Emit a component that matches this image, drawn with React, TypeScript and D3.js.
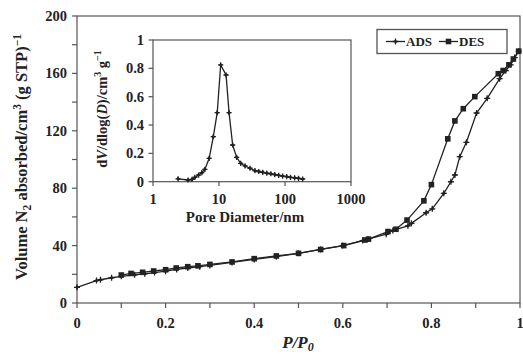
import React from "react";
import * as d3 from "d3";

const adsP = [0, 0.044, 0.053, 0.078, 0.1, 0.13, 0.153, 0.175, 0.2, 0.225, 0.25, 0.277, 0.3, 0.35, 0.4, 0.45, 0.5, 0.55, 0.6, 0.645, 0.657, 0.698, 0.713, 0.747, 0.755, 0.788, 0.802, 0.828, 0.844, 0.853, 0.864, 0.879, 0.902, 0.926, 0.954, 0.968, 0.979, 0.988, 0.997];
const adsV = [10.9, 15.6, 16.2, 17.6, 18.6, 19.6, 20.3, 21.2, 22.2, 23.4, 24.4, 25.3, 26.2, 28.3, 30.4, 32.3, 34.6, 37.3, 40.0, 43.5, 44.6, 47.9, 50.6, 53.8, 55.5, 62.9, 65.6, 76.4, 84.5, 89.2, 102, 112, 132.4, 142.6, 156.3, 162, 166, 171, 175.5];

const desP = [0.997, 0.985, 0.975, 0.962, 0.951, 0.898, 0.872, 0.853, 0.837, 0.8, 0.783, 0.745, 0.72, 0.702, 0.658, 0.65, 0.602, 0.55, 0.5, 0.45, 0.4, 0.35, 0.3, 0.273, 0.25, 0.224, 0.2, 0.173, 0.148, 0.122, 0.1];
const desV = [175.5, 170, 166, 162, 159.8, 143.8, 135.4, 126.9, 114.4, 82.5, 71.2, 57.8, 51.4, 49.8, 44.5, 43.9, 40.0, 37.3, 34.6, 32.8, 30.9, 28.6, 26.9, 25.9, 25.3, 24.4, 23.2, 22.3, 21.4, 20.6, 19.5];

const poreD = [2.4, 3.4, 3.9, 4.3, 4.9, 5.5, 6.1, 7.1, 8.2, 9.4, 10.6, 12.8, 14.2, 16.1, 18.5, 21.3, 24.8, 29.5, 35, 40, 46, 53, 61, 70, 80, 92, 106, 121, 140, 160, 185];
const poreV = [0.02, 0.012, 0.016, 0.03, 0.047, 0.064, 0.087, 0.165, 0.318, 0.487, 0.824, 0.753, 0.487, 0.259, 0.172, 0.13, 0.111, 0.095, 0.078, 0.072, 0.066, 0.06, 0.056, 0.05, 0.045, 0.04, 0.036, 0.031, 0.027, 0.024, 0.019];

const xTicks = [0, 0.2, 0.4, 0.6, 0.8, 1];
const xMinor = [0.1, 0.3, 0.5, 0.7, 0.9];
const yTicks = [0, 40, 80, 120, 160, 200];
const yMinor = [20, 60, 100, 140, 180];
const inXTicks = [1, 10, 100, 1000];
const inYTicks = [0, 0.2, 0.4, 0.6, 0.8, 1];

const FONT = "'Liberation Serif', 'Times New Roman', serif";
const INK = "#222";
const FRAME = "#555";

function Plus({ x, y, s = 3 }: { x: number; y: number; s?: number }) {
  return (
    <g>
      <path d={`M${x - s},${y}L${x + s},${y}M${x},${y - s}L${x},${y + s}`} stroke={INK} strokeWidth={1.3} />
      <path d={`M${x - 2},${y}L${x},${y - 2}L${x + 2},${y}L${x},${y + 2}Z`} fill={INK} />
    </g>
  );
}

function Sq({ x, y, s = 2.8 }: { x: number; y: number; s?: number }) {
  return <rect x={x - s} y={y - s} width={2 * s} height={2 * s} fill={INK} />;
}

export default function App() {
  const x = d3.scaleLinear().domain([0, 1]).range([77, 520]);
  const y = d3.scaleLinear().domain([0, 200]).range([303, 16]);
  const xi = d3.scaleLog().domain([1, 1000]).range([153, 351]);
  const yi = d3.scaleLinear().domain([0, 1]).range([181.7, 40]);

  const ads = adsP.map((p, i) => [x(p), y(adsV[i])] as [number, number]);
  const des = desP.map((p, i) => [x(p), y(desV[i])] as [number, number]);
  const pore = poreD.map((d, i) => [xi(d), yi(poreV[i])] as [number, number]);
  const line = d3.line();

  return (
    <svg width={523} height={357} style={{ position: "absolute", left: 0, top: 0, background: "#fff" }} fontFamily={FONT} fontWeight="bold">
      {/* main frame */}
      <rect x={77} y={16} width={443} height={287} fill="none" stroke={FRAME} strokeWidth={1.2} />
      {xTicks.concat(xMinor).map((t) => (
        <line key={"xt" + t} x1={x(t)} x2={x(t)} y1={303} y2={308} stroke={FRAME} strokeWidth={1.2} />
      ))}
      {yTicks.concat(yMinor).map((t) => (
        <line key={"yt" + t} x1={72} x2={77} y1={y(t)} y2={y(t)} stroke={FRAME} strokeWidth={1.2} />
      ))}
      {xTicks.map((t) => (
        <text key={"xl" + t} x={x(t)} y={328} fontSize={14.5} textAnchor="middle" fill={INK}>{t}</text>
      ))}
      {yTicks.map((t) => (
        <text key={"yl" + t} x={67} y={y(t) + 5} fontSize={14.5} textAnchor="end" fill={INK}>{t}</text>
      ))}
      <text x={298} y={348} fontSize={17} textAnchor="middle" fontStyle="italic" fill={INK}>
        P/P<tspan dy={3} fontSize={12}>0</tspan>
      </text>
      <text transform="translate(27,157) rotate(-90)" fontSize={16.5} textAnchor="middle" fill={INK}>
        Volume N<tspan dy={4} fontSize={11.5}>2</tspan><tspan dy={-4}> absorbed/cm</tspan><tspan dy={-6} fontSize={11.5}>3</tspan><tspan dy={6}> (g STP)</tspan><tspan dy={-6} fontSize={11.5}>−1</tspan>
      </text>

      {/* main series */}
      <path d={line(ads) || ""} fill="none" stroke={INK} strokeWidth={1.3} />
      <path d={line(des) || ""} fill="none" stroke={INK} strokeWidth={1.3} />
      {ads.map(([px, py], i) => <Plus key={"a" + i} x={px} y={py} />)}
      {des.map(([px, py], i) => <Sq key={"d" + i} x={px} y={py} />)}

      {/* legend */}
      <rect x={377} y={29.5} width={130} height={24} fill="#fff" stroke={FRAME} strokeWidth={1.3} />
      <line x1={386} x2={405} y1={41.5} y2={41.5} stroke={INK} strokeWidth={1.3} />
      <Plus x={395.5} y={41.5} />
      <text x={406} y={46} fontSize={13} fill={INK}>ADS</text>
      <line x1={439} x2={458} y1={41.5} y2={41.5} stroke={INK} strokeWidth={1.3} />
      <Sq x={448.5} y={41.5} />
      <text x={459} y={46} fontSize={13} fill={INK}>DES</text>

      {/* inset */}
      <rect x={153} y={40} width={198} height={141.7} fill="none" stroke={FRAME} strokeWidth={1.2} />
      {inXTicks.map((t) => (
        <line key={"ixt" + t} x1={xi(t)} x2={xi(t)} y1={181.7} y2={186} stroke={FRAME} strokeWidth={1.2} />
      ))}
      {inYTicks.map((t) => (
        <line key={"iyt" + t} x1={148.5} x2={153} y1={yi(t)} y2={yi(t)} stroke={FRAME} strokeWidth={1.2} />
      ))}
      {inXTicks.map((t) => (
        <text key={"ixl" + t} x={xi(t)} y={204} fontSize={14.5} textAnchor="middle" fill={INK}>{t}</text>
      ))}
      {inYTicks.map((t) => (
        <text key={"iyl" + t} x={144} y={yi(t) + 5} fontSize={14.5} textAnchor="end" fill={INK}>{t}</text>
      ))}
      <text x={245} y={222} fontSize={15} textAnchor="middle" fill={INK}>Pore Diameter/nm</text>
      <text transform="translate(107,109) rotate(-90)" fontSize={14.5} textAnchor="middle" fill={INK}>
        d<tspan fontStyle="italic">V</tspan>/dlog(<tspan fontStyle="italic">D</tspan>)/cm<tspan dy={-6} fontSize={10}>3</tspan><tspan dy={6}> g</tspan><tspan dy={-6} fontSize={10}>−1</tspan>
      </text>
      <path d={line(pore) || ""} fill="none" stroke={INK} strokeWidth={1.3} />
      {pore.map(([px, py], i) => <Plus key={"p" + i} x={px} y={py} s={2.6} />)}
    </svg>
  );
}
